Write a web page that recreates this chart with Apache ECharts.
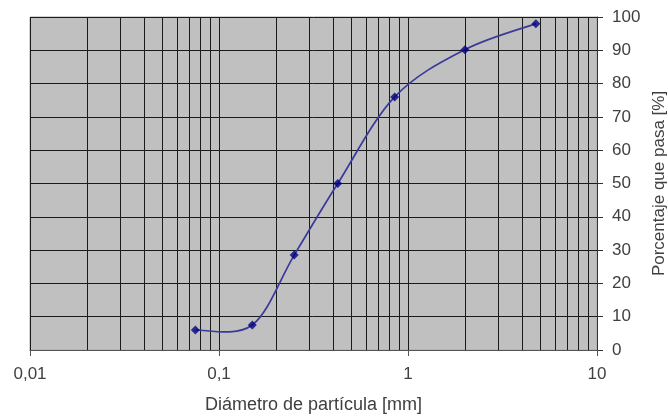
<!DOCTYPE html>
<html>
<head>
<meta charset="utf-8">
<script src="https://cdn.jsdelivr.net/npm/echarts@6/dist/echarts.min.js"></script>
<style>
html,body{margin:0;padding:0;background:#fff;}
#chart{width:668px;height:417px;}
</style>
</head>
<body>
<div id="chart"></div>
<script>
var diameters = [0.075, 0.15, 0.25, 0.425, 0.85, 2, 4.75];
var passing = [6, 7.5, 28.5, 50, 76, 90.2, 98];
var xTickLabels = {"0.01": "0,01", "0.1": "0,1", "1": "1", "10": "10"};
var minorGrid = [0.02,0.03,0.04,0.05,0.06,0.07,0.08,0.09,
                 0.2,0.3,0.4,0.5,0.6,0.7,0.8,0.9,
                 2,3,4,5,6,7,8,9];
var xName = "Diámetro de partícula [mm]";
var yName = "Porcentaje que pasa [%]";

var points = diameters.map(function (d, i) { return [d, passing[i]]; });

var chart = echarts.init(document.getElementById('chart'), null, {renderer: 'canvas'});
var textColor = '#404040';
var font = 'Liberation Sans, Arial, sans-serif';

// Smooth curve (Catmull-Rom style, as spreadsheet smoothed lines) through data, via axis coords
function renderCurve(params, api) {
  var i = params.dataIndex;
  var n = points.length;
  if (i >= n - 1) return null;
  var c = function (k) {
    k = Math.max(0, Math.min(n - 1, k));
    return api.coord(points[k]);
  };
  var p0 = c(i - 1), p1 = c(i), p2 = c(i + 1), p3 = c(i + 2);
  var t = 1 / 6;
  return {
    type: 'bezierCurve',
    shape: {
      x1: p1[0], y1: p1[1], x2: p2[0], y2: p2[1],
      cpx1: p1[0] + (p2[0] - p0[0]) * t, cpy1: p1[1] + (p2[1] - p0[1]) * t,
      cpx2: p2[0] - (p3[0] - p1[0]) * t, cpy2: p2[1] - (p3[1] - p1[1]) * t
    },
    style: {stroke: '#3a3a9a', lineWidth: 1.7, fill: null},
    silent: true
  };
}

chart.setOption({
  animation: false,
  backgroundColor: '#fff',
  grid: {left: 30, right: 71, top: 17, bottom: 67, show: true, containLabel: false,
         outerBoundsMode: 'none',
         backgroundColor: '#c0c0c0', borderColor: '#a8a8a8', borderWidth: 1},
  xAxis: {
    type: 'log', logBase: 10, min: 0.01, max: 10,
    name: xName, nameLocation: 'middle', nameGap: 46,
    nameTextStyle: {color: textColor, fontSize: 18, fontFamily: font},
    axisLine: {show: true, onZero: false, lineStyle: {color: '#555', width: 1}},
    axisTick: {show: true, length: 6, lineStyle: {color: '#555'}},
    axisLabel: {color: textColor, fontSize: 17, fontFamily: font, margin: 16,
      formatter: function (v) { var k = String(+v.toPrecision(3)); return xTickLabels[k] || k; }},
    splitLine: {show: true, lineStyle: {color: '#1a1a1a', width: 1}},
    minorTick: {show: false}
  },
  yAxis: {
    type: 'value', position: 'right', min: 0, max: 100, interval: 10,
    name: yName, nameLocation: 'middle', nameGap: 44, nameRotate: 90,
    nameTextStyle: {color: textColor, fontSize: 17, fontFamily: font},
    axisLine: {show: true, lineStyle: {color: '#333', width: 1}},
    axisTick: {show: true, length: 6, lineStyle: {color: '#333'}},
    axisLabel: {color: textColor, fontSize: 17, fontFamily: font, margin: 15},
    splitLine: {show: true, lineStyle: {color: '#1a1a1a', width: 1}}
  },
  series: [{
    type: 'custom',
    renderItem: renderCurve,
    data: points,
    encode: {x: 0, y: 1},
    z: 4,
    markLine: {
      silent: true, symbol: ['none', 'none'], label: {show: false},
      lineStyle: {color: '#1a1a1a', width: 1, type: 'solid'},
      data: minorGrid.map(function (v) { return {xAxis: v}; }),
      z: 1
    }
  }, {
    type: 'scatter',
    data: points,
    symbol: 'diamond', symbolSize: 9,
    itemStyle: {color: '#000080'},
    z: 5
  }]
});
</script>
</body>
</html>
